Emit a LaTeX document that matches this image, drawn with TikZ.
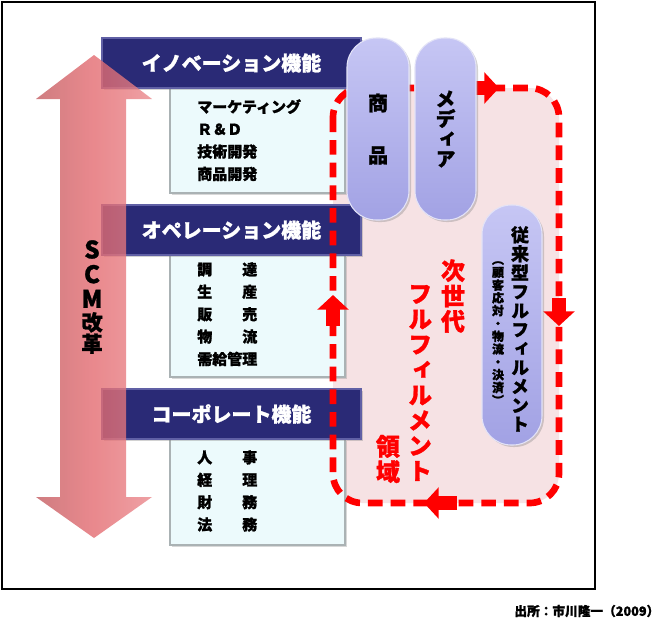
\documentclass[tikz,border=0pt]{standalone}
\usepackage{fontspec}
\usepackage{tikz}
\usetikzlibrary{arrows.meta,shadows,positioning}
\newfontfamily\jp{Noto Sans CJK JP}[BoldFeatures={FakeBold=1.2}]
\newfontfamily\jpv{Noto Sans CJK JP}[RawFeature=+vert,BoldFeatures={FakeBold=1.2}]
\definecolor{hdrnavy}{RGB}{42,42,118}
\definecolor{hdredge}{RGB}{96,96,165}
\definecolor{boxcyan}{RGB}{236,250,252}
\definecolor{boxedge}{RGB}{170,178,180}
\definecolor{pilllav}{RGB}{162,162,228}
\definecolor{pilltop}{RGB}{198,198,244}
\definecolor{scmred}{RGB}{228,104,110}
\definecolor{zonepink}{RGB}{246,226,228}
\definecolor{loopred}{RGB}{255,0,0}
\newcommand\PxUnit{0.75pt}
\newcommand\jpsize[2]{\fontsize{#1}{#2}\selectfont}
\newcommand\bigLat[1]{{\fontsize{18}{16}\selectfont #1}}
\tikzset{
  header/.style={
    shape = rectangle,
    draw = hdredge,
    line width = 1.5pt,
    fill = hdrnavy,
    minimum width = 194.25pt,
    minimum height = 37.5pt,
    text = white,
    font = \jp\bfseries\jpsize{15}{18},
    drop shadow={shadow xshift=1.5pt, shadow yshift=-1.5pt, opacity=0.35}
  },
  funcbox/.style={
    shape = rectangle,
    draw = boxedge,
    line width = 1pt,
    fill = boxcyan,
    minimum width = 131.25pt,
    drop shadow={shadow xshift=1.5pt, shadow yshift=-1.5pt, opacity=0.3}
  },
  items/.style={
    anchor = north west,
    inner sep = 0pt,
    align = left,
    font = \jp\bfseries\jpsize{11.25}{16.8}
  },
  pill/.style={
    shape = rectangle,
    rounded corners = 22pt,
    draw = white!70!pilllav,
    line width = 0.8pt,
    top color = pilltop,
    bottom color = pilllav,
    drop shadow={shadow xshift=1.5pt, shadow yshift=-1.5pt, opacity=0.35}
  },
  tate/.style={
    align = center,
    inner sep = 0pt,
    font = \jpv\bfseries\jpsize{#1}{#1}
  },
  zonetext/.style={
    align = center,
    inner sep = 0pt,
    text = loopred,
    font = \jpv\bfseries\jpsize{18}{19}
  },
  loop/.style={
    draw = loopred,
    line width = 5pt,
    dash pattern = on 11pt off 6pt,
    rounded corners = 22pt
  },
  flow/.style={
    draw = loopred,
    line width = 10pt,
    -{Triangle[length=11pt,width=23pt]}
  },
  scm/.style={
    left color = scmred!85!black,
    right color = scmred!80!white,
    middle color = scmred,
    fill opacity = 0.78
  }
}

\begin{document}
\begin{tikzpicture}[x=\PxUnit, y=-\PxUnit]
	\useasboundingbox (0,0) rectangle (672,626);
	\fill[white] (0,0) rectangle (672,626);
	\draw[line width=1.6pt] (2,2) rectangle (595,589);

	\coordinate (zoneNW) at (333,88);
	\coordinate (zoneSE) at (559,503);
	\fill[zonepink, rounded corners=22pt] (zoneNW) rectangle (zoneSE);

	\node[funcbox, minimum height=78.75pt] (innovBox) at (257.5,140.5) {};
	\node[funcbox, minimum height=91.5pt] (operBox) at (257.5,316) {};
	\node[funcbox, minimum height=79.5pt] (corpBox) at (257.5,492) {};

	\node[items] (innovItems) at (197,99) {マーケティング\\Ｒ＆Ｄ\\技術開発\\商品開発};
	\node[items] (operItems) at (197,262) {調　　達\\生　　産\\販　　売\\物　　流\\需給管理};
	\node[items] (corpItems) at (197,450) {人　　事\\経　　理\\財　　務\\法　　務};

	\node[header] (innovHdr) at (231.5,63) {イノベーション機能};
	\node[header] (operHdr) at (231.5,230) {オペレーション機能};
	\node[header] (corpHdr) at (231.5,414) {コーポレート機能};

	\path[scm] (94,55) -- ++(58,44) -- ++(-26,0) -- ++(0,398) -- ++(26,0)
		-- ++(-58,41) -- ++(-58,-41) -- ++(24,0) -- ++(0,-398) -- ++(-24,0) -- cycle;
	\node[tate=16, font=\jpv\bfseries\jpsize{16}{16}] (scmLabel) at (92,297) {\bigLat{S}\\[2.5pt]\bigLat{C}\\[2.5pt]\bigLat{M}\\[1pt]改\\革};

	\draw[loop] (zoneNW) rectangle (zoneSE);
	\coordinate (topA) at (470,88);   \coordinate (topB) at (499,88);
	\coordinate (rightA) at (559,298); \coordinate (rightB) at (559,326);
	\coordinate (botA) at (457,503);  \coordinate (botB) at (424,503);
	\coordinate (leftA) at (333,326); \coordinate (leftB) at (333,295);
	\draw[flow] (topA) -- (topB);
	\draw[flow] (rightA) -- (rightB);
	\draw[flow] (botA) -- (botB);
	\draw[flow] (leftA) -- (leftB);

	\node[pill, minimum width=46.5pt, minimum height=136.5pt] (goodsPill) at (378,129) {};
	\node[pill, minimum width=45.75pt, minimum height=136.5pt] (mediaPill) at (445.5,129) {};
	\node[pill, minimum width=45pt, minimum height=180pt] (juraiPill) at (512,325) {};

	\node[tate=15] (goodsText) at (goodsPill) {商\\[24pt]品};
	\node[tate=15] (mediaText) at (mediaPill) {メ\\デ\\ィ\\ア};
	\node[tate=13.5, font=\jpv\bfseries\jpsize{13.5}{14.2}] (juraiMain) at (520,329) {従\\来\\型\\フ\\ル\\フ\\ィ\\ル\\メ\\ン\\ト};
	\node[tate=9, font=\jpv\bfseries\jpsize{9}{9.6}] (juraiSub) at (498,333) {（\\顧\\客\\応\\対\\・\\物\\流\\・\\決\\済\\）};

	\node[zonetext] (zoneA) at (453,296) {次\\世\\代};
	\node[zonetext] (zoneB) at (420,383) {フ\\ル\\フ\\ィ\\ル\\メ\\ン\\ト};
	\node[zonetext] (zoneC) at (388,459) {領\\域};

	\node[anchor=east, font=\jp\bfseries\jpsize{9.5}{11}] (source) at (664,611) {出所：市川隆一（2009）};
\end{tikzpicture}
\end{document}
